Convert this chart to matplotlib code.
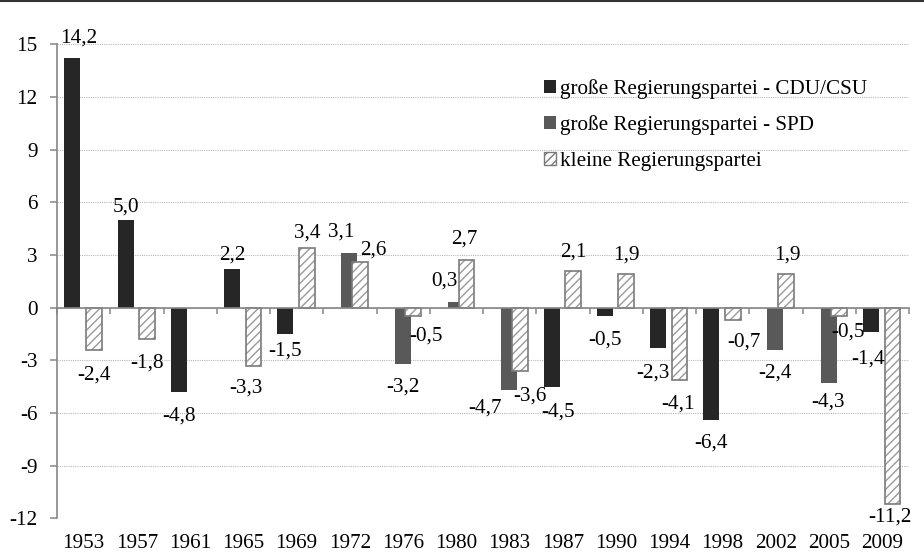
import numpy as np
import matplotlib
matplotlib.use("Agg")
import matplotlib.pyplot as plt
from matplotlib.patches import Patch
from matplotlib.lines import Line2D
from matplotlib.ticker import FixedLocator

plt.rcParams['font.family'] = ['Liberation Serif', 'DejaVu Serif']
plt.rcParams['axes.unicode_minus'] = False
plt.rcParams['hatch.linewidth'] = 1.0

years = ["1953", "1957", "1961", "1965", "1969", "1972", "1976", "1980",
         "1983", "1987", "1990", "1994", "1998", "2002", "2005", "2009"]
nan = np.nan
cdu = [14.2, 5.0, -4.8, 2.2, -1.5, nan, nan, nan,
       nan, -4.5, -0.5, -2.3, -6.4, nan, nan, -1.4]
spd = [nan, nan, nan, nan, nan, 3.1, -3.2, 0.3,
       -4.7, nan, nan, nan, nan, -2.4, -4.3, nan]
small = [-2.4, -1.8, nan, -3.3, 3.4, 2.6, -0.5, 2.7,
         -3.6, 2.1, 1.9, -4.1, -0.7, 1.9, -0.5, -11.2]
labels = ["große Regierungspartei - CDU/CSU",
          "große Regierungspartei - SPD",
          "kleine Regierungspartei"]
yticks = [-12, -9, -6, -3, 0, 3, 6, 9, 12, 15]

# label offsets in screen pixels (dx right, dy down) - layout only
cdu_off = [(6.5, -20), (0, -13), (0.5, 24), (0, -14), (0, 17), None, None, None,
           None, (6, 25), (0, 24), (-5, 24.6), (0, 23), None, None, (-3, 27)]
spd_off = [None, None, None, None, None, (-8.5, -21), (0, 23), (-11, -21),
           (-24.5, 18), None, None, None, None, (0, 23), (-1, 18.5), None]
small_off = [(0, 25), (0, 24), None, (-8, 22), (1, -15), (13, -12), (13, 20), (-2, -21),
             (10, 25), (0, -19), (0, -19), (-1, 24), (11.5, 22), (1, -19), (8.5, 16), (-2.5, 13)]

W, H = 924, 553
fig = plt.figure(figsize=(W / 100, H / 100), dpi=100)
left, right = 57 / W, 909 / W
bottom, top = 1 - 518.4 / H, 1 - 44.3 / H
ax = fig.add_axes([left, bottom, right - left, top - bottom])

x = np.arange(len(years))
bw = 0.30
c_cdu, c_spd = '#262626', '#595959'
ax.bar(x - 0.21, cdu, bw, color=c_cdu, linewidth=0, zorder=3)
ax.bar(x - 0.01, spd, bw, color=c_spd, linewidth=0, zorder=3)
ax.bar(x + 0.19, small, bw, facecolor='white', edgecolor='#9a9a9a',
       hatch='////', linewidth=0, zorder=4)
ax.bar(x + 0.19, small, bw, fill=False, edgecolor='#7a7a7a',
       linewidth=1.2, zorder=4)

def fmt(v):
    return f"{v:.1f}".replace('.', ',')

fs = 15.2
for series, offs, shift in ((cdu, cdu_off, -0.21), (spd, spd_off, -0.01), (small, small_off, 0.19)):
    for i, (v, o) in enumerate(zip(series, offs)):
        if np.isnan(v) or o is None:
            continue
        ax.annotate(fmt(v), xy=(i + shift, v), xytext=(o[0], -o[1]),
                    textcoords='offset pixels', ha='center', va='center',
                    fontsize=fs, color='black', zorder=6)

ax.set_xlim(-0.5, len(years) - 0.5)
ax.set_ylim(-12, 15)
ax.set_yticks(yticks)
ax.set_yticklabels([str(t) for t in yticks], fontsize=fs)
ax.yaxis.grid(True, linestyle=(0, (1, 1)), color='#b8b8b8', linewidth=0.8, zorder=0)
ax.set_axisbelow(True)

for s in ('top', 'right'):
    ax.spines[s].set_visible(False)
gray = '#868686'
ax.spines['left'].set_color(gray)
ax.spines['left'].set_linewidth(1.2)
ax.spines['bottom'].set_position(('data', 0))
ax.spines['bottom'].set_color(gray)
ax.spines['bottom'].set_linewidth(1.2)
ax.spines['bottom'].set_zorder(5)

ax.tick_params(axis='y', length=5, width=1.1, color=gray, pad=9, labelsize=fs)
ax.set_xticks([])
ax.xaxis.set_minor_locator(FixedLocator(np.arange(-0.5, len(years), 1.0)))
ax.tick_params(axis='x', which='minor', length=4, width=1.1, color=gray, direction='out')

for i, yr in enumerate(years):
    ax.annotate(yr, xy=(i, 0), xycoords=('data', 'axes fraction'),
                xytext=(0, -25), textcoords='offset pixels',
                ha='center', va='center', fontsize=fs, annotation_clip=False)

handles = [Patch(facecolor=c_cdu, edgecolor='none'),
           Patch(facecolor=c_spd, edgecolor='none'),
           Patch(facecolor='white', edgecolor='#7a7a7a', hatch='////', linewidth=1.0)]
fig.legend(handles, labels, loc='upper left',
           bbox_to_anchor=(544 / W, 1 - 79 / H), bbox_transform=fig.transFigure,
           frameon=False, fontsize=fs, handlelength=0.55, handleheight=0.55,
           handletextpad=0.2, labelspacing=0.78, borderpad=0, borderaxespad=0)

fig.add_artist(Line2D([0, 1], [1 - 1.2 / H, 1 - 1.2 / H], transform=fig.transFigure,
                      color='#333333', linewidth=1.5))

fig.savefig("out.png", dpi=100)
